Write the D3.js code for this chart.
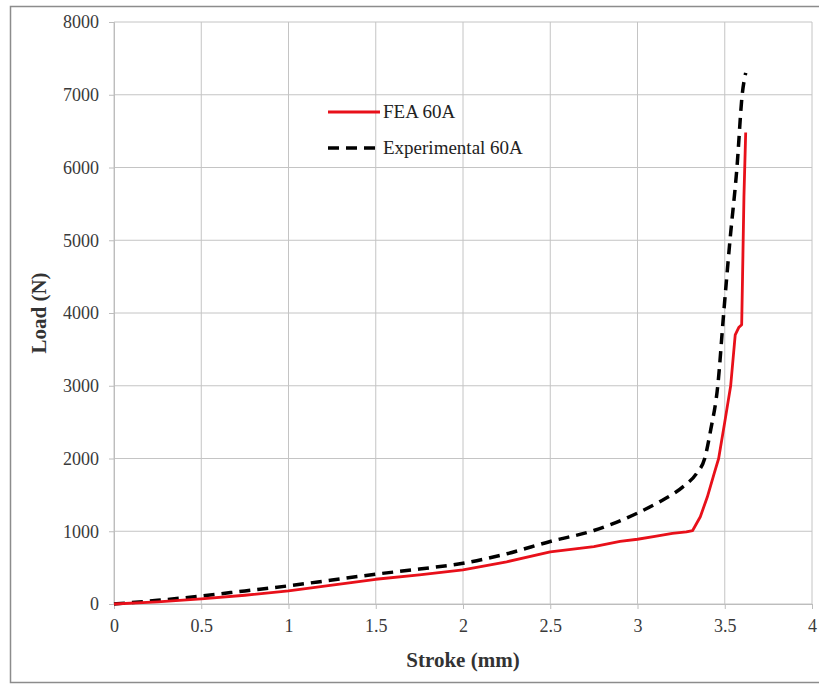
<!DOCTYPE html>
<html>
<head>
<meta charset="utf-8">
<script src="https://cdn.jsdelivr.net/npm/d3@7"></script>
<style>
  body { margin: 0; background: #fff; }
  text { font-family: "Liberation Serif", "Times New Roman", serif; }
</style>
</head>
<body>
<div id="chart"></div>
<script>
// FEA 60A (stroke mm, load N)
var feaStroke = [0, 0.25, 0.5, 0.75, 1, 1.25, 1.5, 1.75, 2, 2.25, 2.5, 2.75, 2.9, 3, 3.1, 3.2, 3.28, 3.316, 3.36, 3.4, 3.44, 3.465, 3.5, 3.534, 3.56, 3.58, 3.597, 3.602, 3.61, 3.62];
var feaLoad   = [0, 30, 70, 120, 180, 260, 340, 400, 470, 580, 715, 790, 860, 890, 930, 970, 990, 1010, 1200, 1470, 1800, 2000, 2500, 3000, 3700, 3800, 3840, 4500, 5600, 6480];
// Experimental 60A
var expStroke = [0, 0.25, 0.5, 0.75, 1, 1.25, 1.5, 1.75, 2, 2.25, 2.5, 2.75, 3, 3.13, 3.26, 3.34, 3.385, 3.42, 3.46, 3.494, 3.53, 3.57, 3.6, 3.62];
var expLoad   = [0, 50, 110, 180, 250, 330, 410, 480, 560, 690, 860, 1010, 1250, 1410, 1610, 1800, 2000, 2400, 3000, 4000, 5000, 6000, 7000, 7300];

var xTicks = [0, 0.5, 1, 1.5, 2, 2.5, 3, 3.5, 4];
var yTicks = [0, 1000, 2000, 3000, 4000, 5000, 6000, 7000, 8000];
var seriesNames = ["FEA 60A", "Experimental 60A"];

var W = 819, H = 684;
var margin = {left: 114, right: 7, top: 22, bottom: 80};

var svg = d3.select("#chart").append("svg").attr("width", W).attr("height", H);

// chart area frame
svg.append("rect")
  .attr("x", 10.5).attr("y", 6.5).attr("width", 820).attr("height", 676)
  .attr("fill", "#fff").attr("stroke", "#8c8c8c").attr("stroke-width", 1.5);

var x = d3.scaleLinear().domain([0, 4]).range([margin.left, W - margin.right]);
var y = d3.scaleLinear().domain([0, 8000]).range([H - margin.bottom, margin.top]);

var grid = svg.append("g");
grid.selectAll("line.v").data(xTicks).enter().append("line")
  .attr("x1", d => x(d)).attr("x2", d => x(d))
  .attr("y1", y(0)).attr("y2", y(8000))
  .attr("stroke", "#c4c4c4").attr("stroke-width", 1);
grid.selectAll("line.h").data(yTicks).enter().append("line")
  .attr("x1", x(0)).attr("x2", x(4))
  .attr("y1", d => y(d)).attr("y2", d => y(d))
  .attr("stroke", "#c4c4c4").attr("stroke-width", 1);

var xAxis = svg.append("g").attr("transform", "translate(0," + y(0) + ")")
  .call(d3.axisBottom(x).tickValues(xTicks).tickSize(5).tickFormat(d3.format("")));
var yAxis = svg.append("g").attr("transform", "translate(" + x(0) + ",0)")
  .call(d3.axisLeft(y).tickValues(yTicks).tickSize(5).tickFormat(d3.format("d")));

[xAxis, yAxis].forEach(function(a) {
  a.select(".domain").attr("stroke", "#bdbdbd");
  a.selectAll(".tick line").attr("stroke", "#bdbdbd");
  a.selectAll(".tick text").attr("fill", "#3a3a3a").style("font-size", "18px")
    .style("font-family", "'Liberation Serif', serif");
});
xAxis.selectAll(".tick text").attr("dy", "0.95em").attr("y", 11);
yAxis.selectAll(".tick text").attr("x", -15);

svg.append("text").attr("x", (x(0) + x(4)) / 2 + 0).attr("y", 667)
  .attr("text-anchor", "middle").attr("font-weight", "bold").attr("font-size", 21)
  .attr("fill", "#333").text("Stroke (mm)");
svg.append("text").attr("transform", "translate(46," + y(4000) + ") rotate(-90)")
  .attr("text-anchor", "middle").attr("font-weight", "bold").attr("font-size", 21)
  .attr("fill", "#333").text("Load (N)");

var line = d3.line().x(d => x(d[0])).y(d => y(d[1]));
var smooth = d3.line().curve(d3.curveMonotoneX).x(d => x(d[0])).y(d => y(d[1]));

svg.append("path").datum(d3.zip(expStroke, expLoad))
  .attr("d", smooth).attr("fill", "none").attr("stroke", "#000")
  .attr("stroke-width", 3.5).attr("stroke-dasharray", "11,7");

svg.append("path").datum(d3.zip(feaStroke, feaLoad))
  .attr("d", line).attr("fill", "none").attr("stroke", "#e8101a")
  .attr("stroke-width", 2.8).attr("stroke-linejoin", "round");

// legend
var lg = svg.append("g");
lg.append("line").attr("x1", 328).attr("x2", 380).attr("y1", 112).attr("y2", 112)
  .attr("stroke", "#e8101a").attr("stroke-width", 2.8);
lg.append("line").attr("x1", 328).attr("x2", 380).attr("y1", 148).attr("y2", 148)
  .attr("stroke", "#000").attr("stroke-width", 3.5).attr("stroke-dasharray", "11,7");
lg.selectAll("text").data(seriesNames).enter().append("text")
  .attr("x", 383).attr("y", (d, i) => 118 + i * 36)
  .attr("font-size", 19).attr("fill", "#222").text(d => d);
</script>
</body>
</html>
